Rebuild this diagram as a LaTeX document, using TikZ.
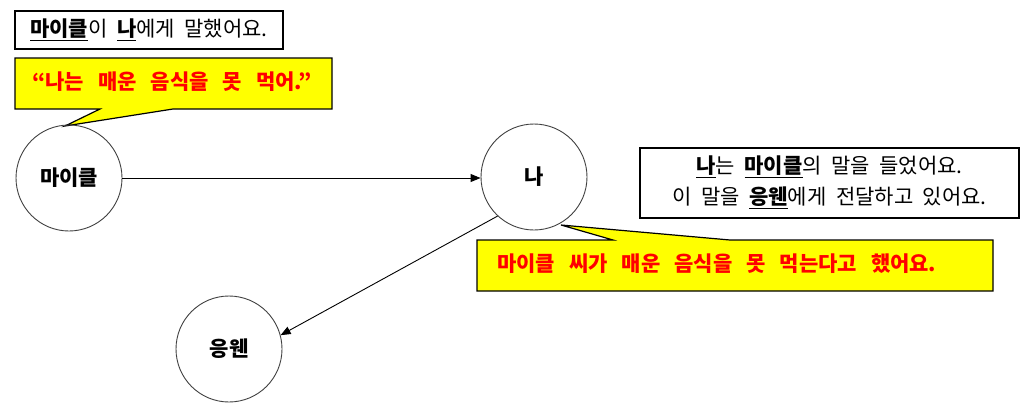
\documentclass[tikz,border=0pt]{standalone}
\usepackage{fontspec}
\setmainfont{Noto Sans CJK KR}
\usetikzlibrary{arrows.meta}
\definecolor{cy}{RGB}{255,255,0}
\definecolor{cr}{RGB}{255,0,0}
\newcommand{\kul}[1]{\underline{\textbf{#1}}}
\newcommand{\regfont}{\fontsize{21}{25}\selectfont\spaceskip 9.5pt\relax}
\newcommand{\redfont}{\fontsize{21}{25}\selectfont\bfseries\spaceskip 14pt\relax}
\newcommand{\namefont}{\fontsize{21}{25}\selectfont\bfseries}
\tikzset{
  txt/.style={inner sep=0pt, font=\regfont},
  redtxt/.style={inner sep=0pt, text=cr, font=\redfont},
  person/.style={circle, draw=black!75, line width=0.9pt, minimum size=106pt, inner sep=0pt,
    font=\namefont},
  infobox/.style={draw, line width=1.2pt, inner sep=0pt},
  callout/.style={fill=cy, draw, line width=1.2pt, line join=miter},
  link/.style={-{Triangle[length=10pt,width=8pt]}, line width=0.9pt},
}
\begin{document}
\begin{tikzpicture}[x=1pt,y=-1pt]
\useasboundingbox (0,0) rectangle (1036,407);
% top statement box
\node[infobox, txt, minimum width=268pt, minimum height=38pt] (b1) at (149,30)
  {\kul{마이클}이 \kul{나}에게 말했어요.};
% first callout
\coordinate (tip1) at (65,126);
\path[callout] (15,58) -- (332,58) -- (332,109) -- (173,109) -- (tip1) -- (100,109) -- (15,109) -- cycle;
\node[redtxt] (q1) at (172,82) {“나는 매운 음식을 못 먹어.”};
% people
\node[person] (mic) at (69,178) {마이클};
\node[person] (na) at (534,177) {나};
\node[person] (ung) at (229,349) {응웬};
% connectors
\draw[link] (mic.east) -- (mic.east -| na.west);
\draw[link] (na.227) -- (ung.15);
% right statement box
\node[infobox, minimum width=379pt, minimum height=70pt] (b2) at (829.5,183) {};
\node[txt] (l1) at (829.5,166.5) {\kul{나}는 \kul{마이클}의 말을 들었어요.};
\node[txt] (l2) at (829.5,198) {이 말을 \kul{응웬}에게 전달하고 있어요.};
% second callout
\coordinate (tip2) at (561,225);
\path[callout] (477,240) -- (613,240) -- (tip2) -- (730,240) -- (993,240) -- (993,291) -- (477,291) -- cycle;
\node[redtxt, anchor=west] (q2) at (497,264) {마이클 씨가 매운 음식을 못 먹는다고 했어요.};
\end{tikzpicture}
\end{document}
